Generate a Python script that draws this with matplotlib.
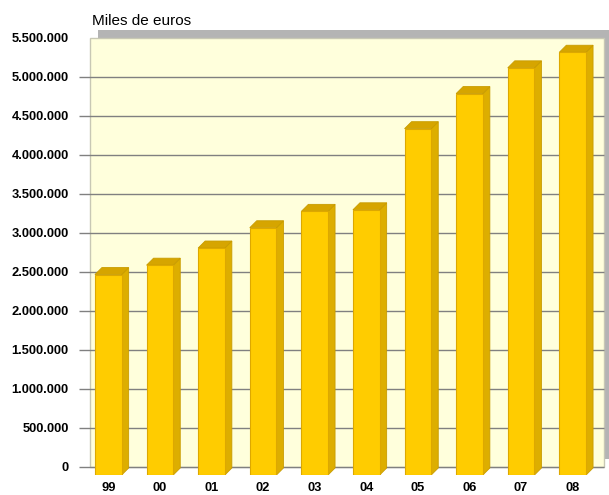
import matplotlib
matplotlib.use("Agg")
import matplotlib.pyplot as plt
from matplotlib.patches import Polygon, Rectangle

# ---- data ----
years = ["99", "00", "01", "02", "03", "04", "05", "06", "07", "08"]
values = [2570000, 2690000, 2910000, 3170000, 3380000, 3400000,
          4440000, 4890000, 5220000, 5420000]
y_ticks = [0, 500000, 1000000, 1500000, 2000000, 2500000, 3000000,
           3500000, 4000000, 4500000, 5000000, 5500000]
unit_label = "Miles de euros"

# ---- geometry (pixels) ----
W, H = 609, 495
fig = plt.figure(figsize=(W / 100, H / 100), dpi=100)
fig.patch.set_facecolor("white")

ax_left, ax_right, ax_bottom, ax_top = 79, 609, 475, 30  # pixel coords (from top)
ax = fig.add_axes([ax_left / W, (H - ax_bottom) / H,
                   (ax_right - ax_left) / W, (ax_bottom - ax_top) / H])
ax.set_facecolor("none")

px_per_cat = 51.6
px_per_val = 78e-6
x0_center = 108.3
ax.set_xlim((ax_left - x0_center) / px_per_cat, (ax_right - x0_center) / px_per_cat)
ax.set_ylim(0, (ax_bottom - ax_top) / px_per_val)


def dx(p):
    return p / px_per_cat


def dy(p):
    return p / px_per_val


def xd(px):
    return (px - x0_center) / px_per_cat


# wall (back plane) offset
wdx, wdy = dx(10), dy(8.3)
wall_left, wall_right = xd(90), xd(604)
wall_bottom = wdy
wall_top = y_ticks[-1] + wdy

# shadow
ax.add_patch(Rectangle((wall_left + dx(8), wall_bottom + dy(8)),
                       wall_right - wall_left, wall_top - wall_bottom,
                       facecolor="#B4B4B4", edgecolor="none", zorder=0,
                       clip_on=False))
# wall
ax.add_patch(Rectangle((wall_left, wall_bottom), wall_right - wall_left,
                       wall_top - wall_bottom, facecolor="#FFFFDC",
                       edgecolor="#C8C8B4", lw=1, zorder=1, clip_on=False))

# gridlines
for t in y_ticks[:-1]:
    ax.plot([xd(79), wall_right], [t + wdy, t + wdy], color="#808080",
            lw=1, zorder=2, solid_capstyle="butt")

# bars
bw = 26.7 / px_per_cat
bdx, bdy = dx(7), dy(7)
for i, v in enumerate(values):
    xl, xr = i - bw / 2, i + bw / 2
    side = Polygon([(xr, 0), (xr + bdx, bdy), (xr + bdx, v + bdy), (xr, v)],
                   closed=True, facecolor="#DDAE00", edgecolor="#C99C00",
                   lw=0.6, zorder=3)
    top = Polygon([(xl, v), (xl + bdx, v + bdy), (xr + bdx, v + bdy), (xr, v)],
                  closed=True, facecolor="#D6A500", edgecolor="#C99C00",
                  lw=0.6, zorder=3)
    ax.add_patch(side)
    ax.add_patch(top)
ax.bar(range(len(values)), values, width=bw, color="#FFCC00",
       edgecolor="#DDA800", linewidth=0.8, zorder=4)

# axes ticks / labels
for s in ax.spines.values():
    s.set_visible(False)
ax.set_yticks([t + wdy for t in y_ticks])
ax.set_yticklabels([f"{t:,}".replace(",", ".") for t in y_ticks])
ax.set_xticks(range(len(years)))
ax.set_xticklabels(years)
ax.tick_params(axis="y", length=0, pad=7.5)
ax.tick_params(axis="x", length=0, pad=5)
for lab in ax.get_yticklabels() + ax.get_xticklabels():
    lab.set_fontfamily("Liberation Sans")
    lab.set_fontweight("bold")
    lab.set_fontsize(9.3)

fig.text(92 / W, 1 - 21 / H, unit_label, fontsize=11,
         fontfamily="Liberation Sans", va="center", ha="left")

fig.savefig("out.png", dpi=100)
